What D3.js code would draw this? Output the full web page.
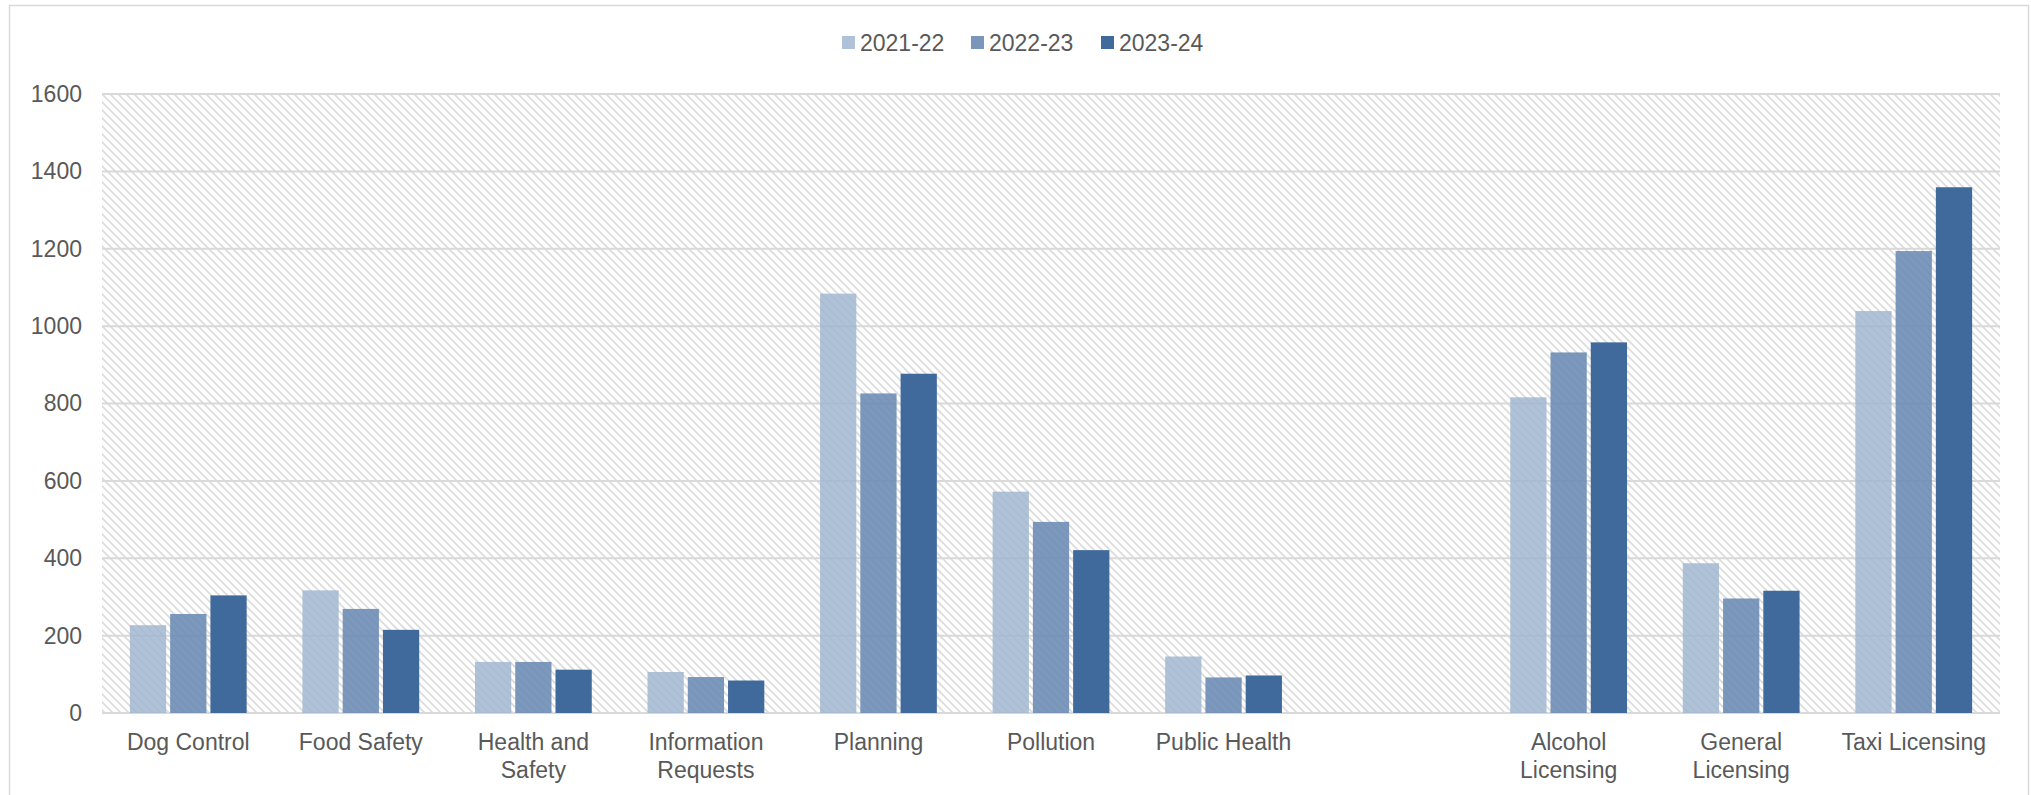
<script src="https://d3js.org/d3.v7.min.js"></script>

<html>
<head>
<style>
    body { margin: 0; background: #fff; }
    text { font-family: "Liberation Sans", Arial, sans-serif; fill: #595959; }
</style>
</head>
<body>
<div id="myPlot"></div>
</body>
<script>

    const categories = ["Dog Control", "Food Safety", "Health and Safety", "Information Requests", "Planning",
        "Pollution", "Public Health", "", "Alcohol Licensing", "General Licensing", "Taxi Licensing"];
    const seriesNames = ["2021-22", "2022-23", "2023-24"];
    const s2122 = [227, 317, 132, 106, 1084, 572, 146, null, 816, 387, 1039];
    const s2223 = [256, 269, 132, 93, 826, 494, 92, null, 932, 296, 1194];
    const s2324 = [304, 215, 112, 84, 877, 421, 97, null, 958, 316, 1359];
    const yTicks = [0, 200, 400, 600, 800, 1000, 1200, 1400, 1600];

    const xSize = 2031;
    const ySize = 795;
    const plot = {left: 102, right: 2000, top: 94, bottom: 713};

    // bar fills are a bit see-through so the hatch shows
    const fills = ["#9fb4d0", "#6a8ab3", "#416a9c"];
    const opac = [0.82, 0.88, 1];
    const legendFills = ["#b0c2d9", "#7a96bb", "#416a9c"];

    const series = [s2122, s2223, s2324];

    const svg = d3.select("#myPlot").append("svg")
        .attr("width", xSize)
        .attr("height", ySize);

    const tile = 8;
    const defs = svg.append("defs");
    const pat = defs.append("pattern")
        .attr("id", "hatch")
        .attr("patternUnits", "userSpaceOnUse")
        .attr("width", tile)
        .attr("height", tile);
    pat.append("rect").attr("width", tile).attr("height", tile).attr("fill", "#fff");
    pat.append("path")
        .attr("d", `M-1,-1 L${tile + 1},${tile + 1} M-1,${tile - 1} L1,${tile + 1} M${tile - 1},-1 L${tile + 1},1`)
        .attr("stroke", "#dcdcdc")
        .attr("stroke-width", 1.7);

    // outer chart border
    svg.append("rect")
        .attr("x", 9.5).attr("y", 5.5)
        .attr("width", 2019).attr("height", 800)
        .attr("fill", "none")
        .attr("stroke", "#d9d9d9")
        .attr("stroke-width", 1.5);

    const x0 = d3.scaleBand()
        .domain(categories)
        .range([plot.left, plot.right])
        .paddingInner(0.3)
        .paddingOuter(0.15);

    const x1 = d3.scaleBand()
        .domain(seriesNames)
        .range([0, x0.bandwidth()]);

    const y = d3.scaleLinear()
        .domain([0, 1600])
        .range([plot.bottom, plot.top]);

    // plot area background
    svg.append("rect")
        .attr("x", plot.left)
        .attr("y", plot.top)
        .attr("width", plot.right - plot.left)
        .attr("height", plot.bottom - plot.top)
        .attr("fill", "url(#hatch)");

    // gridlines
    svg.append("g")
        .selectAll("line")
        .data(yTicks)
        .enter()
        .append("line")
        .attr("x1", plot.left)
        .attr("x2", plot.right)
        .attr("y1", d => y(d))
        .attr("y2", d => y(d))
        .attr("stroke", "#d9d9d9")
        .attr("stroke-width", 2);

    // y axis labels
    const yAxis = svg.append("g")
        .attr("transform", "translate(" + (plot.left - 20) + ",0)")
        .call(d3.axisLeft(y).tickValues(yTicks).tickFormat(d3.format("d")).tickSize(0).tickPadding(0));
    yAxis.select(".domain").remove();
    yAxis.selectAll("text")
        .style("font-size", "23px")
        .attr("fill", "#595959");

    // bars
    series.forEach((vals, si) => {
        svg.append("g")
            .selectAll("rect")
            .data(vals.map((v, i) => ({cat: categories[i], v: v})).filter(d => d.v !== null))
            .enter()
            .append("rect")
            .attr("x", d => x0(d.cat) + x1(seriesNames[si]) + 2)
            .attr("width", x1.bandwidth() - 4)
            .attr("y", d => y(d.v))
            .attr("height", d => y(0) - y(d.v))
            .attr("fill", fills[si])
            .attr("fill-opacity", opac[si]);
    });

    // category labels
    const xAxis = svg.append("g")
        .attr("transform", "translate(0," + plot.bottom + ")")
        .call(d3.axisBottom(x0).tickSize(0).tickPadding(21));
    xAxis.select(".domain").remove();
    xAxis.selectAll("text")
        .style("font-size", "23px")
        .attr("fill", "#595959")
        .call(wrap, 168);

    function wrap(texts, width) {
        texts.each(function () {
            const text = d3.select(this);
            const words = text.text().split(/\s+/).filter(w => w.length);
            const yy = +text.attr("y");
            text.attr("dy", null).text(null);
            let line = [];
            let lineNo = 0;
            let tspan = text.append("tspan").attr("x", 0).attr("y", yy + 16.3);
            words.forEach(w => {
                line.push(w);
                tspan.text(line.join(" "));
                if (tspan.node().getComputedTextLength() > width && line.length > 1) {
                    line.pop();
                    tspan.text(line.join(" "));
                    line = [w];
                    lineNo++;
                    tspan = text.append("tspan").attr("x", 0)
                        .attr("y", yy + 16.3 + lineNo * 27.5).text(w);
                }
            });
        });
    }

    // legend
    const legendX = [842, 971, 1101];
    const legend = svg.append("g");
    seriesNames.forEach((name, i) => {
        legend.append("rect")
            .attr("x", legendX[i])
            .attr("y", 36)
            .attr("width", 13)
            .attr("height", 13)
            .attr("fill", legendFills[i]);
        legend.append("text")
            .attr("x", legendX[i] + 18)
            .attr("y", 51)
            .style("font-size", "23px")
            .text(name);
    });
</script>
</html>
